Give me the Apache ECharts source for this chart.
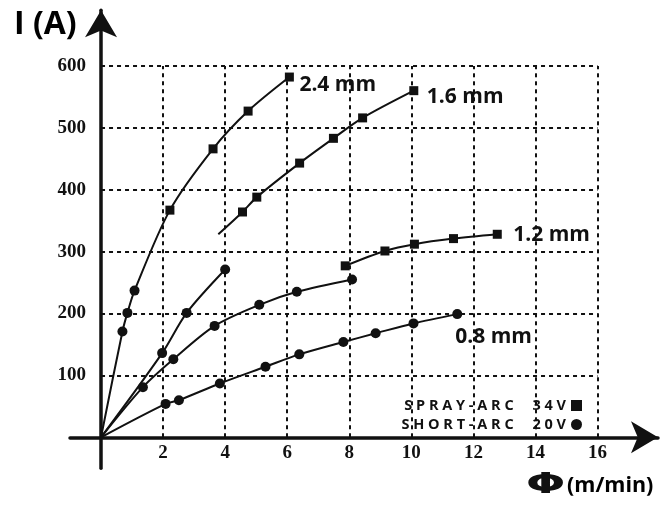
<!DOCTYPE html>
<html>
<head>
<meta charset="utf-8">
<script src="https://cdn.jsdelivr.net/npm/echarts@6/dist/echarts.min.js"></script>
<style>
  html, body { margin: 0; background: #fff; }
  #chart { width: 670px; height: 511px; }
</style>
</head>
<body>
<div id="chart"></div>
<script>
// tick labels
const xTicks = [2, 4, 6, 8, 10, 12, 14, 16];
const yTicks = [100, 200, 300, 400, 500, 600];

// wire feed speed (m/min) vs current (A)
const origin = [0, 0];
const wire24Short = [[0.69, 171], [0.85, 201], [1.08, 237]];
const wire24Spray = [[2.22, 367], [3.61, 466], [4.74, 527], [6.07, 582]];
const wire16Short = [[1.97, 136], [2.76, 201], [4.0, 271]];
const wire16SprayStart = [3.78, 328]; // line begins here, no marker
const wire16Spray = [[4.56, 364], [5.02, 388], [6.40, 443], [7.49, 483], [8.43, 516], [10.08, 560]];
const wire12Short = [[1.35, 81], [2.33, 126], [3.66, 180], [5.10, 214], [6.31, 235], [8.09, 255]];
const wire12Spray = [[7.87, 277], [9.15, 301], [10.10, 312], [11.36, 321], [12.77, 328]];
const wire08Short = [[2.08, 54], [2.51, 60], [3.83, 87], [5.30, 114], [6.39, 134], [7.81, 154], [8.85, 168], [10.07, 184], [11.48, 199]];

const sprayName = 'SPRAY-ARC  34V';
const shortName = 'SHORT-ARC  20V';

const chart = echarts.init(document.getElementById('chart'));

const ink = '#111';
const labelFont = { fontFamily: 'Open Sans', fontWeight: 'bold', color: ink };

// dotted grid, only inside 0..16 / 0..600
const xEnd = xTicks[xTicks.length - 1];
const yEnd = yTicks[yTicks.length - 1];
const gridLines = [
  ...xTicks.map(x => [{ coord: [x, 0] }, { coord: [x, yEnd] }]),
  ...yTicks.map(y => [{ coord: [0, y] }, { coord: [xEnd, y] }])
];

const curve = (data, extra) => Object.assign({
  type: 'line',
  data: data,
  smooth: 0.3,
  symbol: 'none',
  silent: true,
  z: 3,
  lineStyle: { color: ink, width: 2 },
  emphasis: { disabled: true }
}, extra || {});

const last = arr => arr[arr.length - 1];
const wireLabels = [
  { name: '2.4 mm', value: last(wire24Spray), label: { offset: [10, 8] } },
  { name: '1.6 mm', value: last(wire16Spray), label: { offset: [13, 6] } },
  { name: '1.2 mm', value: last(wire12Spray), label: { offset: [16, 1] } },
  { name: '0.8 mm', value: last(wire08Short), label: { offset: [-2, 23] } }
];

const options = {
  animation: false,
  grid: { left: 70, right: 12, top: 10.2, bottom: 42.75 },
  xAxis: {
    type: 'value',
    min: -1,
    max: 17.95,
    axisLine: {
      onZero: true,
      symbol: ['none', 'arrow'],
      symbolSize: [24, 27],
      lineStyle: { color: ink, width: 3.5 }
    },
    axisTick: { show: false },
    splitLine: { show: false },
    axisLabel: {
      customValues: xTicks,
      formatter: v => (xTicks.includes(v) ? String(v) : ''),
      margin: -24.5,
      fontFamily: 'Liberation Serif',
      fontWeight: 'bold',
      fontSize: 19,
      color: ink
    }
  },
  yAxis: {
    type: 'value',
    min: -50,
    max: 690,
    axisLine: {
      onZero: true,
      symbol: ['none', 'arrow'],
      symbolSize: [24, 27],
      lineStyle: { color: ink, width: 3.5 }
    },
    axisTick: { show: false },
    splitLine: { show: false },
    axisLabel: {
      customValues: yTicks,
      formatter: v => (yTicks.includes(v) ? String(v) : ''),
      margin: -16,
      fontFamily: 'Liberation Serif',
      fontWeight: 'bold',
      fontSize: 19,
      color: ink
    }
  },
  legend: {
    data: [sprayName, shortName],
    orient: 'vertical',
    right: 83,
    top: 393,
    align: 'right',
    itemWidth: 11,
    itemHeight: 11,
    itemGap: 4,
    selectedMode: false,
    // the original sets these two lines letter-spaced
    formatter: n => n.split('').join(' '),
    textStyle: Object.assign({ fontSize: 14.5 }, labelFont)
  },
  graphic: [
    { type: 'text', left: 14, top: 9, style: Object.assign({ text: 'I (A)', fontSize: 32 }, labelFont) },
    {
      type: 'text', x: 526, y: 472, scaleX: 1.65,
      style: { text: 'Φ', fontFamily: 'DejaVu Sans', fontWeight: 'bold', fontSize: 28, fill: ink }
    },
    { type: 'text', left: 567, top: 475, style: Object.assign({ text: '(m/min)', fontSize: 21.5 }, labelFont) }
  ],
  series: [
    curve([origin, ...wire24Short, ...wire24Spray]),
    curve([origin, ...wire16Short]),
    curve([wire16SprayStart, ...wire16Spray]),
    curve([origin, ...wire12Short]),
    curve(wire12Spray),
    curve([origin, ...wire08Short], {
      markLine: {
        silent: true,
        symbol: ['none', 'none'],
        label: { show: false },
        emphasis: { disabled: true },
        lineStyle: { color: ink, type: [4, 4], width: 2 },
        data: gridLines
      }
    }),
    {
      name: sprayName,
      type: 'scatter',
      symbol: 'rect',
      symbolSize: 9,
      z: 4,
      silent: true,
      itemStyle: { color: ink, opacity: 1 },
      data: [...wire24Spray, ...wire16Spray, ...wire12Spray]
    },
    {
      name: shortName,
      type: 'scatter',
      symbol: 'circle',
      symbolSize: 10,
      z: 4,
      silent: true,
      itemStyle: { color: ink, opacity: 1 },
      data: [...wire24Short, ...wire16Short, ...wire12Short, ...wire08Short]
    },
    {
      type: 'scatter',
      symbolSize: 0,
      silent: true,
      itemStyle: { color: ink, opacity: 1 },
      label: Object.assign({
        show: true,
        position: 'right',
        distance: 0,
        formatter: '{b}',
        fontSize: 21
      }, labelFont),
      data: wireLabels
    }
  ]
};

chart.setOption(options);
</script>
</body>
</html>
